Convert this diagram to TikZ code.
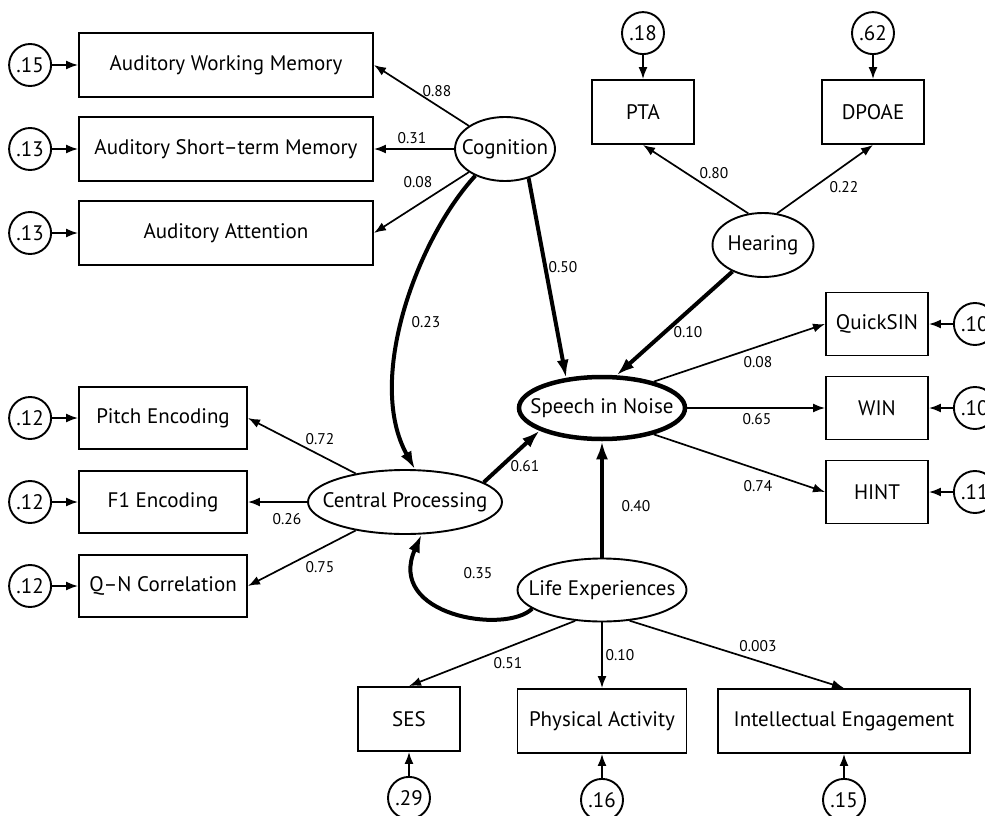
\documentclass[tikz,border=0pt]{standalone}
\usepackage{fontspec}
\setmainfont{PT Sans}
\usepackage{tikz}
\usetikzlibrary{positioning}
\usetikzlibrary{shapes.geometric}
\usetikzlibrary{arrows.meta}

\begin{document}
\begin{tikzpicture}[x=1pt, y=-1pt,
every node/.style = {font=\fontsize{21}{24}\selectfont},
  box/.style = {draw, rectangle, line width=1.9pt, minimum height=64pt, minimum width=#1},
  lat/.style = {draw, ellipse, line width=1.9pt, inner sep=0pt, minimum height=64pt, minimum width=#1},
  err/.style = {draw, circle, line width=1.9pt, inner sep=0pt, minimum size=42pt},
  lbl/.style = {font=\fontsize{15.5}{18}\selectfont},
  load/.style = {>={Latex[length=12pt,width=9pt]}, ->, line width=1.7pt},
  reg/.style = {>={Latex[length=18pt,width=12pt]}, ->, line width=4pt}
]
\useasboundingbox (0,0) rectangle (985,816);

% cognition
\node (awm) [box=294pt] at (226,65) {Auditory Working Memory};
\node (astm) [box=294pt] at (226,149) {Auditory Short--term Memory};
\node (aa) [box=294pt] at (226,233) {Auditory Attention};
\node (e1) [err, left=26pt of awm] {.15};
\node (e2) [err, left=26pt of astm] {.13};
\node (e3) [err, left=26pt of aa] {.13};
\node (cog) [lat=100pt] at (505,149) {\makebox[0pt]{Cognition}};

% hearing
\node (pta) [box=102pt] at (643,112) {PTA};
\node (dpoae) [box=102pt] at (873,112) {DPOAE};
\node (e4) [err, above=24pt of pta] {.18};
\node (e5) [err, above=24pt of dpoae] {.62};
\node (hear) [lat=101pt] at (763,245) {\makebox[0pt]{Hearing}};

% speech in noise
\node (sin) [lat=166pt, minimum height=62pt, line width=4.5pt] at (602,408) {\makebox[0pt]{Speech in Noise}};
\node (qs) [box=102pt, minimum height=63pt] at (877,324) {QuickSIN};
\node (win) [box=102pt, minimum height=63pt] at (877,408) {WIN};
\node (hint) [box=102pt, minimum height=63pt] at (877,492) {HINT};
\node (e6) [err, right=24pt of qs] {.10};
\node (e7) [err, right=24pt of win] {.10};
\node (e8) [err, right=24pt of hint] {.11};

% central processing
\node (pitch) [box=168pt, minimum height=62pt] at (163,418) {Pitch Encoding};
\node (f1) [box=168pt, minimum height=62pt] at (163,502) {F1 Encoding};
\node (qn) [box=168pt, minimum height=62pt] at (163,586) {Q--N Correlation};
\node (e9) [err, left=26pt of pitch] {.12};
\node (e10) [err, left=26pt of f1] {.12};
\node (e11) [err, left=26pt of qn] {.12};
\node (cp) [lat=194pt] at (405,502) {\makebox[0pt]{Central Processing}};

% life experiences
\node (le) [lat=169pt, minimum height=63pt] at (602,590) {\makebox[0pt]{Life Experiences}};
\node (ses) [box=102pt] at (409,719) {SES};
\node (pa) [box=169pt] at (602,721) {Physical Activity};
\node (ie) [box=252pt] at (844,721) {Intellectual Engagement};
\node (e12) [err, below=24pt of ses] {.29};
\node (e13) [err, below=24pt of pa] {.16};
\node (e14) [err, below=24pt of ie] {.15};

% error terms
\draw[load] (e1) -- (awm);
\draw[load] (e2) -- (astm);
\draw[load] (e3) -- (aa);
\draw[load] (e4) -- (pta);
\draw[load] (e5) -- (dpoae);
\draw[load] (e6) -- (qs);
\draw[load] (e7) -- (win);
\draw[load] (e8) -- (hint);
\draw[load] (e9) -- (pitch);
\draw[load] (e10) -- (f1);
\draw[load] (e11) -- (qn);
\draw[load] (e12) -- (ses);
\draw[load] (e13) -- (pa);
\draw[load] (e14) -- (ie);

% loadings
\draw[load] (cog) -- (awm.east);
\draw[load] (cog) -- (astm);
\draw[load] (cog) -- (aa.east);
\draw[load] (hear.115) -- (pta.south);
\draw[load] (hear.66) -- (dpoae.south);
\draw[load] (sin.27) -- (qs.west);
\draw[load] (sin) -- (win);
\draw[load] (sin.-27) -- (hint.west);
\draw[load] (cp.150) -- (pitch.east);
\draw[load] (cp) -- (f1);
\draw[load] (cp.210) -- (qn.east);
\draw[load] (le.229) -- (ses.north);
\draw[load] (le) -- (pa);
\draw[load] (le.-48) -- (ie.north);

% paths
\draw[reg] (cog.-51) -- (sin.140);
\draw[reg] (hear.221) -- (sin.66);
\draw[reg] (cp.14) -- (sin.200);
\draw[reg] (le) -- (sin);
\draw[reg] (cog.222) .. controls +(-58,63) and +(-50,-89) .. (cp.73);
\draw[reg] (le.195) .. controls +(-27,26) and +(-36,81) .. (cp.297);

% weights
\node (w1) [lbl] at (437,91) {0.88};
\node (w2) [lbl] at (412,138) {0.31};
\node (w3) [lbl] at (418,182) {0.08};
\node (w4) [lbl] at (426,322) {0.23};
\node (w5) [lbl] at (563,267) {0.50};
\node (w6) [lbl] at (714,173) {0.80};
\node (w7) [lbl] at (844,187) {0.22};
\node (w8) [lbl] at (688,332) {0.10};
\node (w9) [lbl] at (758,362) {0.08};
\node (w10) [lbl] at (757,419) {0.65};
\node (w11) [lbl] at (758,486) {0.74};
\node (w12) [lbl] at (525,466) {0.61};
\node (w13) [lbl] at (636,506) {0.40};
\node (w14) [lbl] at (320,439) {0.72};
\node (w15) [lbl] at (287,519) {0.26};
\node (w16) [lbl] at (320,567) {0.75};
\node (w17) [lbl] at (478,573) {0.35};
\node (w18) [lbl] at (508,663) {0.51};
\node (w19) [lbl] at (620,655) {0.10};
\node (w20) [lbl] at (758,646) {0.003};
\end{tikzpicture}
\end{document}
